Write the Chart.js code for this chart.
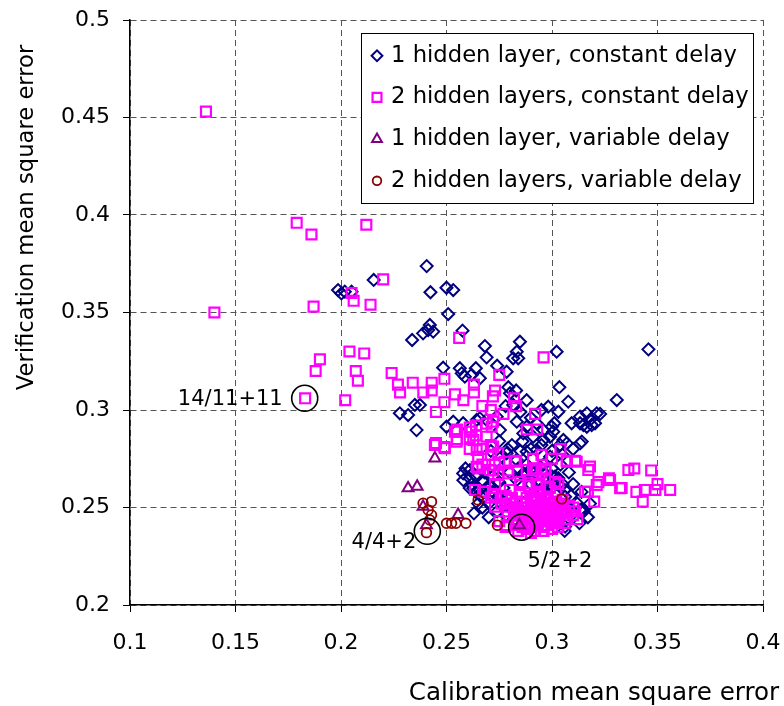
<!DOCTYPE html>
<html><head><meta charset="utf-8">
<script src="https://cdn.jsdelivr.net/npm/chart.js@4.4.1/dist/chart.umd.min.js"></script>
<style>html,body{margin:0;padding:0;background:#fff;}canvas{display:block;}</style>
</head><body>
<canvas id="c" width="784" height="706"></canvas>
<script>
const seriesNames = ['1 hidden layer, constant delay','2 hidden layers, constant delay','1 hidden layer, variable delay','2 hidden layers, variable delay'];
const xTickLabels = ['0.1','0.15','0.2','0.25','0.3','0.35','0.4'];
const yTickLabels = ['0.2','0.25','0.3','0.35','0.4','0.45','0.5'];
const xTitle = 'Calibration mean square error';
const yTitle = 'Verification mean square error';
const annotLabels = ['14/11+11','4/4+2','5/2+2'];
const annotPoints = [[0.1828,0.306],[0.2409,0.2378],[0.2856,0.2399]];

const oneLayerConstant = [
[0.2155,0.3667],[0.1986,0.3615],[0.2002,0.3598],[0.2018,0.3607],[0.205,0.3607],
[0.2406,0.3738],[0.2424,0.3604],[0.2500,0.3627],[0.2532,0.3615],[0.2508,0.3492],[0.2337,0.3359],[0.2421,0.3436],[0.2389,0.3393],
[0.2413,0.3410],[0.2437,0.3402],[0.2576,0.3407],[0.2682,0.3328],[0.2690,0.3270],[0.2740,0.3227],[0.2785,0.3196],[0.2484,0.3217],
[0.2563,0.3214],[0.2572,0.3188],[0.2587,0.3171],[0.2639,0.3214],[0.2619,0.3180],[0.2658,0.3163],[0.2848,0.3350],[0.2816,0.3265],
[0.2833,0.3299],[0.2840,0.3265],[0.3022,0.3299],[0.3457,0.3311],[0.2793,0.3117],[0.3035,0.3117],[0.3077,0.3043],[0.3307,0.3051],
[0.2982,0.3017],[0.3030,0.2991],[0.3011,0.2932],[0.2999,0.2914],[0.3093,0.2932],[0.3133,0.2966],[0.3165,0.2983],[0.3180,0.2949],
[0.3212,0.2983],[0.3228,0.2980],[0.3188,0.2923],[0.3149,0.2923],[0.3141,0.2838],[0.2350,0.3026],[0.2374,0.3026],[0.2318,0.2974],
[0.2358,0.2897],[0.2279,0.2983],[0.2532,0.2940],[0.2579,0.2932],[0.2643,0.2949],[0.2658,0.2957],[0.2690,0.2949],[0.2738,0.2966],
[0.2801,0.3086],[0.2816,0.3026],[0.2833,0.2940],[0.2880,0.2914],[0.2927,0.2932],[0.2911,0.2863],[0.2959,0.2846],[0.3006,0.2889],
[0.3054,0.2846],[0.3038,0.2821],
[0.2579,0.2675],[0.2611,0.2692],[0.2643,0.2658],[0.2674,0.2632],[0.2627,0.2599],[0.2658,0.2590],[0.2706,0.2607],[0.2745,0.2555],
[0.2777,0.2530],[0.2801,0.2504],[0.2833,0.2641],[0.2864,0.2675],[0.2896,0.2692],[0.2943,0.2709],[0.2975,0.2650],[0.3014,0.2658],
[0.3038,0.2607],[0.3062,0.2555],[0.3070,0.2504],[0.3101,0.2470],[0.3133,0.2487],[0.3062,0.2402],[0.3006,0.2607],[0.2943,0.2590],
[0.2927,0.2539],[0.2864,0.2522],[0.2500,0.2914],[0.2753,0.2897],[0.2864,0.2880],[0.2959,0.2897],[0.2991,0.2863],[0.3133,0.2932],
[0.3165,0.2914],[0.3204,0.2932],[0.2785,0.2778],[0.2833,0.2744],[0.2880,0.2786],[0.2927,0.2795],[0.2991,0.2761],[0.3070,0.2829],
[0.3133,0.2829],
[0.259,0.270],[0.261,0.265],[0.264,0.266],[0.267,0.264],[0.269,0.260],[0.275,0.263],[0.277,0.260],[0.285,0.262],[0.287,0.266],
[0.291,0.265],[0.299,0.262],[0.303,0.265],[0.306,0.259],[0.258,0.264],[0.261,0.260],[0.265,0.252],[0.267,0.250],[0.314,0.249],
[0.306,0.243],[0.285,0.279],[0.279,0.280],[0.275,0.284],
[0.262,0.262],[0.266,0.256],[0.270,0.252],[0.274,0.248],[0.278,0.246],[0.282,0.243],[0.290,0.262],[0.296,0.258],[0.300,0.266],
[0.305,0.262],[0.309,0.256],[0.312,0.252],[0.315,0.248],[0.313,0.242],[0.306,0.238],
[0.268,0.268],[0.272,0.266],[0.276,0.270],[0.280,0.268],[0.284,0.270],[0.288,0.272],[0.292,0.268],[0.296,0.272],[0.300,0.270],
[0.304,0.272],[0.308,0.268],[0.271,0.279],[0.276,0.276],[0.281,0.282],[0.286,0.284],[0.290,0.280],[0.295,0.282],[0.300,0.279],
[0.305,0.277],[0.310,0.280],[0.264,0.258],[0.272,0.258],[0.279,0.256],[0.270,0.245],[0.263,0.247],[0.310,0.262],[0.314,0.258],
[0.317,0.245],[0.318,0.252],[0.295,0.300],[0.290,0.296],[0.285,0.299],[0.278,0.302],[0.283,0.310],[0.288,0.305]
];

const twoLayerConstant = [
[0.136,0.453],[0.140,0.350],[0.179,0.396],[0.186,0.390],[0.212,0.395],[0.220,0.367],[0.205,0.360],[0.206,0.356],[0.214,0.354],
[0.187,0.353],[0.256,0.337],[0.296,0.327],[0.204,0.330],[0.211,0.329],[0.190,0.326],[0.188,0.320],[0.207,0.320],[0.208,0.315],
[0.183,0.306],[0.202,0.305],[0.224,0.319],[0.227,0.313],[0.234,0.314],[0.228,0.309],[0.239,0.309],[0.243,0.310],[0.243,0.314],
[0.249,0.316],[0.254,0.308],[0.258,0.305],[0.263,0.313],[0.263,0.309],[0.275,0.318],[0.273,0.310],[0.272,0.307],[0.282,0.306],
[0.283,0.302],[0.277,0.298],[0.292,0.298],[0.249,0.304],[0.245,0.299],[0.267,0.302],[0.271,0.300],[0.261,0.291],[0.255,0.290],
[0.264,0.292],[0.269,0.293],[0.272,0.294],[0.288,0.290],[0.293,0.290],[0.245,0.283],[0.249,0.281],[0.255,0.285],[0.261,0.280],
[0.267,0.280],[0.271,0.282],[0.261,0.286],[0.264,0.287],[0.265,0.276],[0.271,0.277],[0.267,0.272],[0.265,0.270],[0.275,0.273],
[0.283,0.274],[0.291,0.275],[0.295,0.277],[0.300,0.275],[0.304,0.280],[0.307,0.274],[0.311,0.274],[0.318,0.271],[0.339,0.270],
[0.347,0.269],[0.322,0.263],[0.327,0.265],[0.333,0.260],[0.317,0.258],[0.320,0.253],[0.340,0.258],[0.343,0.253],[0.344,0.259],
[0.349,0.259],[0.350,0.262],[0.356,0.259],[0.273,0.272],[0.272,0.269],[0.279,0.269],[0.291,0.269],[0.295,0.268],[0.297,0.270],
[0.305,0.251],[0.310,0.250],[0.311,0.248],[0.306,0.242],
[0.2445,0.2821],[0.2492,0.2804],[0.2540,0.2889],[0.2548,0.2838],[0.2619,0.2889],[0.2627,0.2846],[0.2643,0.2795],[0.2690,0.2863],
[0.2714,0.2914],[0.2721,0.2812],[0.2745,0.2778],[0.2777,0.2735],[0.2824,0.2735],[0.2880,0.2692],[0.2919,0.2701],[0.2967,0.2692],
[0.2643,0.2709],[0.2706,0.2692],[0.2745,0.2667],[0.2793,0.2675],[0.2848,0.2615],[0.2888,0.2624],[0.2927,0.2615],[0.2975,0.2607],
[0.3014,0.2632],[0.3070,0.2735],[0.3117,0.2735],[0.3172,0.2692],[0.3157,0.2581],[0.3212,0.2615],[0.3275,0.2641],[0.3323,0.2599],
[0.3362,0.2692],[0.2635,0.2590],[0.2674,0.2581],[0.2721,0.2564],[0.2761,0.2547],[0.2730,0.2504],[0.2785,0.2504],[0.2785,0.2410],
[0.276,0.252],[0.279,0.248],[0.281,0.255],[0.283,0.244],[0.284,0.250],[0.285,0.257],[0.286,0.246],[0.287,0.241],[0.288,0.252],
[0.289,0.248],[0.290,0.244],[0.290,0.256],[0.291,0.250],[0.292,0.242],[0.292,0.247],[0.293,0.253],[0.294,0.245],[0.294,0.258],
[0.295,0.249],[0.296,0.243],[0.296,0.252],[0.297,0.246],[0.298,0.255],[0.298,0.241],[0.299,0.249],[0.300,0.244],[0.300,0.252],
[0.301,0.247],[0.302,0.257],[0.302,0.243],[0.303,0.250],[0.304,0.246],[0.305,0.254],[0.306,0.248],[0.307,0.244],[0.286,0.252],
[0.288,0.244],[0.291,0.254],[0.293,0.241],[0.295,0.255],[0.297,0.250],[0.299,0.245],[0.284,0.241],[0.282,0.247],[0.280,0.259],
[0.278,0.256],[0.294,0.262],[0.299,0.260],[0.303,0.262],[0.289,0.261],[0.285,0.263],[0.301,0.242],[0.296,0.240],[0.290,0.240],
[0.308,0.251],[0.310,0.246],[0.312,0.244],[0.271,0.255],[0.268,0.258],[0.273,0.262],[0.275,0.243],[0.278,0.240],
[0.280,0.252],[0.282,0.249],[0.283,0.253],[0.285,0.248],[0.286,0.244],[0.287,0.250],[0.288,0.255],[0.289,0.242],[0.290,0.251],
[0.291,0.246],[0.292,0.255],[0.293,0.249],[0.294,0.243],[0.295,0.252],[0.296,0.247],[0.297,0.241],[0.297,0.254],[0.298,0.250],
[0.299,0.243],[0.300,0.248],[0.301,0.253],[0.302,0.245],[0.303,0.240],[0.304,0.252],[0.305,0.247],[0.288,0.247],[0.290,0.253],
[0.292,0.244],[0.294,0.250],[0.296,0.245],[0.298,0.247],[0.300,0.250],[0.302,0.249],[0.284,0.246],[0.286,0.240],[0.289,0.245],
[0.293,0.246],[0.295,0.241],[0.299,0.252],[0.303,0.246],[0.284,0.238],[0.288,0.239],[0.292,0.238],[0.296,0.238],[0.300,0.239],
[0.290,0.237]
];

const oneLayerVariable = [
[0.2445,0.2752],[0.2318,0.2599],[0.2361,0.2607],[0.2389,0.2504],[0.2555,0.2462],[0.2405,0.2410],[0.2845,0.2410]
];

const twoLayerVariable = [
[0.2389,0.2522],[0.2429,0.2530],[0.2413,0.2487],[0.2429,0.2462],[0.2421,0.2436],[0.2405,0.2371],[0.2500,0.2419],
[0.2524,0.2419],[0.2545,0.2419],[0.2592,0.2419],[0.2741,0.2409],[0.2650,0.2539],[0.3046,0.2544]
];

const FONT = '"DejaVu Sans", sans-serif';
const toXY = a => a.map(p => ({x: p[0], y: p[1]}));
const none = 'rgba(0,0,0,0)';

const styles = [
  {pointStyle:'rectRot', r:6, color:'#000080', w:2, order:4},
  {pointStyle:'rect', r:7, color:'#ff00ff', w:2.2, order:3},
  {pointStyle:'triangle', r:6.3, color:'#800080', w:2, order:2},
  {pointStyle:'circle', r:4.8, color:'#8b0000', w:1.8, order:1}
];
const seriesData = [oneLayerConstant, twoLayerConstant, oneLayerVariable, twoLayerVariable];

const datasets = seriesData.map((d, i) => ({
  label: seriesNames[i],
  data: toXY(d),
  showLine: false,
  pointStyle: styles[i].pointStyle,
  pointRadius: styles[i].r,
  pointHoverRadius: styles[i].r,
  pointBorderColor: styles[i].color,
  pointBackgroundColor: none,
  pointBorderWidth: styles[i].w,
  borderColor: styles[i].color,
  backgroundColor: none,
  order: styles[i].order
}));
datasets.push({
  label: 'annotations',
  data: toXY(annotPoints),
  showLine: false,
  pointStyle: 'circle',
  pointRadius: 13,
  pointHoverRadius: 13,
  pointBorderColor: '#000',
  pointBackgroundColor: none,
  pointBorderWidth: 1.6,
  order: 0
});

function drawMarker(ctx, style, r, cx, cy) {
  ctx.beginPath();
  if (style === 'rectRot') {
    ctx.moveTo(cx - r, cy); ctx.lineTo(cx, cy - r); ctx.lineTo(cx + r, cy); ctx.lineTo(cx, cy + r); ctx.closePath();
  } else if (style === 'rect') {
    const s = Math.SQRT1_2 * r; ctx.rect(cx - s, cy - s, 2 * s, 2 * s);
  } else if (style === 'triangle') {
    let a = 0;
    ctx.moveTo(cx + Math.sin(a) * r, cy - Math.cos(a) * r);
    a += 2 * Math.PI / 3; ctx.lineTo(cx + Math.sin(a) * r, cy - Math.cos(a) * r);
    a += 2 * Math.PI / 3; ctx.lineTo(cx + Math.sin(a) * r, cy - Math.cos(a) * r);
    ctx.closePath();
  } else {
    ctx.arc(cx, cy, r, 0, Math.PI * 2);
  }
  ctx.stroke();
}

const annotStyle = [
  {align:'right', dx:-22, dy:7},
  {align:'right', dx:-11, dy:17},
  {align:'left', dx:6, dy:40}
];

const overlay = {
  id: 'overlay',
  afterDraw(chart) {
    const {ctx} = chart;
    const xs = chart.scales.x, ys = chart.scales.y;
    ctx.save();
    ctx.fillStyle = '#000';
    ctx.textBaseline = 'alphabetic';
    ctx.font = '21px ' + FONT;
    annotLabels.forEach((t, i) => {
      const px = xs.getPixelForValue(annotPoints[i][0]);
      const py = ys.getPixelForValue(annotPoints[i][1]);
      ctx.textAlign = annotStyle[i].align;
      ctx.fillText(t, px + annotStyle[i].dx, py + annotStyle[i].dy);
    });
    ctx.font = '24.6px ' + FONT;
    ctx.textAlign = 'center';
    ctx.fillText(xTitle, 594, 700);
    ctx.save();
    ctx.font = '22.7px ' + FONT;
    ctx.translate(33, 217.5);
    ctx.rotate(-Math.PI / 2);
    ctx.textAlign = 'center';
    ctx.fillText(yTitle, 0, 0);
    ctx.restore();
    const L = {x: 361.5, y: 33.5, w: 392, h: 170};
    ctx.fillStyle = '#fff';
    ctx.fillRect(L.x, L.y, L.w, L.h);
    ctx.strokeStyle = '#000';
    ctx.lineWidth = 1;
    ctx.strokeRect(L.x, L.y, L.w, L.h);
    ctx.font = '22.7px ' + FONT;
    ctx.textAlign = 'left';
    const baselines = [61.7, 103.4, 145.1, 186.8];
    seriesNames.forEach((name, i) => {
      const st = styles[i];
      ctx.strokeStyle = st.color;
      ctx.lineWidth = st.w;
      drawMarker(ctx, st.pointStyle, st.r * 0.9, 377, baselines[i] - 6);
      ctx.fillStyle = '#000';
      ctx.fillText(name, 391, baselines[i]);
    });
    ctx.restore();
  }
};

function zeroPad(s) { s.paddingLeft = 0; s.paddingRight = 0; s.paddingTop = 0; s.paddingBottom = 0; }

new Chart(document.getElementById('c'), {
  type: 'scatter',
  data: {datasets},
  options: {
    responsive: false,
    animation: false,
    devicePixelRatio: 1,
    layout: {padding: {top: 20, right: 21, left: 0, bottom: 0}},
    plugins: {legend: {display: false}, tooltip: {enabled: false}},
    scales: {
      x: {
        type: 'linear', min: 0.1, max: 0.4,
        ticks: {stepSize: 0.05, autoSkip: false, maxRotation: 0, padding: 18, color: '#000',
          font: {family: FONT, size: 22, lineHeight: 1.2},
          callback: (v, i) => xTickLabels[i]},
        grid: {color: '#555', lineWidth: 1, tickColor: '#000', tickLength: 7, tickWidth: 1},
        border: {color: '#000', width: 1.5, dash: [6, 4]},
        afterFit: s => { s.height = 101; zeroPad(s); }
      },
      y: {
        type: 'linear', min: 0.2, max: 0.5,
        ticks: {stepSize: 0.05, autoSkip: false, padding: 13, color: '#000',
          font: {family: FONT, size: 22, lineHeight: 1.2},
          callback: (v, i) => yTickLabels[i]},
        grid: {color: '#555', lineWidth: 1, tickColor: '#000', tickLength: 7, tickWidth: 1},
        border: {color: '#000', width: 1.5, dash: [6, 4]},
        afterFit: s => { s.width = 130; zeroPad(s); }
      }
    }
  },
  plugins: [overlay]
});
</script>
</body></html>
